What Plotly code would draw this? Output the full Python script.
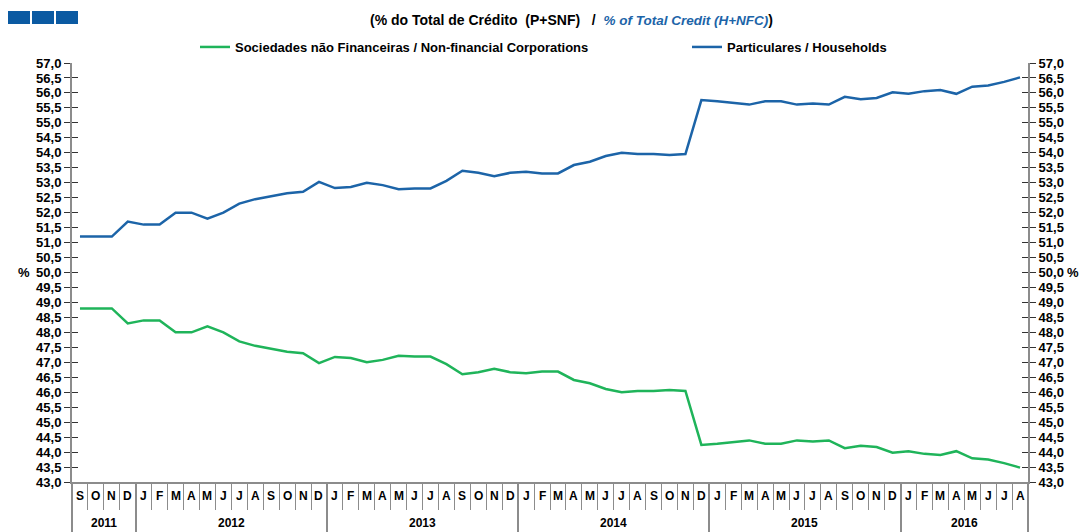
import plotly.graph_objects as go

# ---------------- data ----------------
month_letters = ["S", "O", "N", "D",
                 "J", "F", "M", "A", "M", "J", "J", "A", "S", "O", "N", "D",
                 "J", "F", "M", "A", "M", "J", "J", "A", "S", "O", "N", "D",
                 "J", "F", "M", "A", "M", "J", "J", "A", "S", "O", "N", "D",
                 "J", "F", "M", "A", "M", "J", "J", "A", "S", "O", "N", "D",
                 "J", "F", "M", "A", "M", "J", "J", "A"]
year_labels = ["2011", "2012", "2013", "2014", "2015", "2016"]
year_counts = [4, 12, 12, 12, 12, 8]

households = [51.2, 51.2, 51.2, 51.7,
              51.6, 51.6, 52.0, 52.0, 51.8, 52.0, 52.3, 52.45, 52.55, 52.65, 52.7, 53.03,
              52.82, 52.86, 53.0, 52.92, 52.78, 52.81, 52.81, 53.06, 53.4, 53.33, 53.22, 53.33,
              53.37, 53.31, 53.31, 53.59, 53.7, 53.89, 54.0, 53.96, 53.96, 53.93, 53.96, 55.76,
              55.72, 55.67, 55.61, 55.72, 55.72, 55.61, 55.65, 55.61, 55.87, 55.79, 55.83, 56.02,
              55.97, 56.06, 56.1, 55.97, 56.21, 56.25, 56.37, 56.52]
nfc = [48.8, 48.8, 48.8, 48.3,
       48.4, 48.4, 48.0, 48.0, 48.2, 48.0, 47.7, 47.55, 47.45, 47.35, 47.3, 46.97,
       47.18, 47.14, 47.0, 47.08, 47.22, 47.19, 47.19, 46.94, 46.6, 46.67, 46.78, 46.67,
       46.63, 46.69, 46.69, 46.41, 46.3, 46.11, 46.0, 46.04, 46.04, 46.07, 46.04, 44.24,
       44.28, 44.33, 44.39, 44.28, 44.28, 44.39, 44.35, 44.39, 44.13, 44.21, 44.17, 43.98,
       44.03, 43.94, 43.9, 44.03, 43.79, 43.75, 43.63, 43.48]

name_nfc = "Sociedades não Financeiras / Non-financial Corporations"
name_hh = "Particulares / Households"

# ---------------- style ----------------
OFF = 8  # page body margin
W, H = 1080, 524
ML, MT = 64, 55
PW, PH = 956, 419
MR = W - ML - PW
MB = H - MT - PH
FONT = "Liberation Sans, Arial, sans-serif"
GREEN = "#1fb45a"
BLUE = "#1c64a8"
LOGO = "#0b5aa2"
AXC = "#8c8c8c"

n = len(month_letters)
xs = list(range(n))


def px_x(p):
    return (p - OFF - ML) / PW


def px_y(p):
    return (H - MB - (p - OFF)) / PH


fig = go.Figure()
fig.add_trace(go.Scatter(x=xs, y=nfc, mode="lines", name=name_nfc,
                         line=dict(color=GREEN, width=2.5), legend="legend"))
fig.add_trace(go.Scatter(x=xs, y=households, mode="lines", name=name_hh,
                         line=dict(color=BLUE, width=2.5), legend="legend2"))

yrange = [43, 57]
tickfont = dict(family=FONT, size=13, color="#000", weight="bold")
xr = [-0.5, n - 0.5]

# boundaries
month_bounds = [i - 0.5 for i in range(n + 1)]
year_bounds = [-0.5]
acc = -0.5
for c in year_counts:
    acc += c
    year_bounds.append(acc)

fig.update_layout(
    width=W, height=H,
    margin=dict(l=ML, r=MR, t=MT, b=MB, autoexpand=False),
    paper_bgcolor="white", plot_bgcolor="white",
    separators=", ",
    showlegend=True,
    xaxis=dict(range=xr, showgrid=False, zeroline=False, showline=True,
               linecolor=AXC, linewidth=1.5, showticklabels=False, ticks=""),
    xaxis2=dict(range=xr, overlaying="x", anchor="y", side="bottom",
                showgrid=False, zeroline=False, showline=False,
                tickmode="array", tickvals=month_bounds, ticks="outside",
                ticklen=27, tickwidth=1, tickcolor=AXC, showticklabels=False),
    xaxis3=dict(range=xr, overlaying="x", anchor="y", side="bottom",
                showgrid=False, zeroline=False, showline=False,
                tickmode="array", tickvals=year_bounds, ticks="outside",
                ticklen=55, tickwidth=1.5, tickcolor=AXC, showticklabels=False),
    yaxis=dict(range=yrange, dtick=0.5, tick0=43, tickformat=".1f",
               showgrid=False, zeroline=False, showline=True, linecolor=AXC,
               linewidth=2, ticks="outside", ticklen=6, tickcolor="#333",
               tickfont=tickfont, side="left"),
    yaxis3=dict(range=yrange, dtick=0.5, tick0=43, overlaying="y", side="left",
                showgrid=False, zeroline=False, showline=False,
                ticks="inside", ticklen=6, tickcolor="#333", showticklabels=False),
    yaxis2=dict(range=yrange, dtick=0.5, tick0=43, tickformat=".1f",
                overlaying="y", side="right", anchor="x",
                showgrid=False, zeroline=False, showline=True, linecolor=AXC,
                linewidth=2, ticks="outside", ticklen=6, tickcolor="#333",
                tickfont=tickfont),
    yaxis4=dict(range=yrange, dtick=0.5, tick0=43, overlaying="y", side="right",
                showgrid=False, zeroline=False, showline=False,
                ticks="inside", ticklen=6, tickcolor="#333", showticklabels=False),
    legend=dict(orientation="h", x=px_x(195), xanchor="left", y=px_y(47),
                yanchor="middle", bgcolor="rgba(0,0,0,0)",
                font=dict(family=FONT, size=13, color="#000", weight="bold")),
    legend2=dict(orientation="h", x=px_x(687), xanchor="left", y=px_y(47),
                 yanchor="middle", bgcolor="rgba(0,0,0,0)",
                 font=dict(family=FONT, size=13, color="#000", weight="bold")),
)

# invisible traces to activate extra axes
for xa, ya in [("x2", "y"), ("x3", "y"), ("x", "y2"), ("x", "y3"), ("x", "y4")]:
    fig.add_trace(go.Scatter(x=[xr[0]], y=[yrange[0]], xaxis=xa, yaxis=ya,
                             mode="markers", marker=dict(opacity=0),
                             showlegend=False, hoverinfo="skip"))

annotations = []
# month letters
for i, m in enumerate(month_letters):
    annotations.append(dict(x=i, y=0, xref="x", yref="paper", text=m,
                            showarrow=False, yanchor="middle", yshift=-14,
                            font=dict(family=FONT, size=12, color="#000", weight="bold")))
# year labels
start = 0
for lab, c in zip(year_labels, year_counts):
    annotations.append(dict(x=start + (c - 1) / 2, y=0, xref="x", yref="paper",
                            text=lab, showarrow=False, yanchor="middle", yshift=-41,
                            font=dict(family=FONT, size=12, color="#000", weight="bold")))
    start += c
# % labels
annotations.append(dict(x=px_x(16), y=50, xref="paper", yref="y", text="<b>%</b>",
                        showarrow=False, yanchor="middle",
                        font=dict(family=FONT, size=13, color="#000")))
annotations.append(dict(x=px_x(1081), y=50, xref="paper", yref="y", text="<b>%</b>",
                        showarrow=False, yanchor="middle",
                        font=dict(family=FONT, size=13, color="#000")))
# title
title_text = ("<b>(% do Total de Crédito  (P+SNF)   /  "
              "<i><span style='color:" + BLUE + ";font-size:13.5px'>% of Total Credit (H+NFC)</span></i>)</b>")
annotations.append(dict(
    x=px_x(571), y=px_y(20), xref="paper", yref="paper", showarrow=False,
    xanchor="center", yanchor="middle",
    text=title_text, font=dict(family=FONT, size=14, color="#000")))
fig.update_layout(annotations=annotations)

# logo blocks (decoration)
shapes = []
for k in range(3):
    x0 = 8 + k * 24
    shapes.append(dict(type="rect", xref="paper", yref="paper",
                       x0=px_x(x0), x1=px_x(x0 + 22), y0=px_y(24), y1=px_y(11),
                       fillcolor=LOGO, line=dict(width=0)))
fig.update_layout(shapes=shapes)

fig.write_html("out.html")
